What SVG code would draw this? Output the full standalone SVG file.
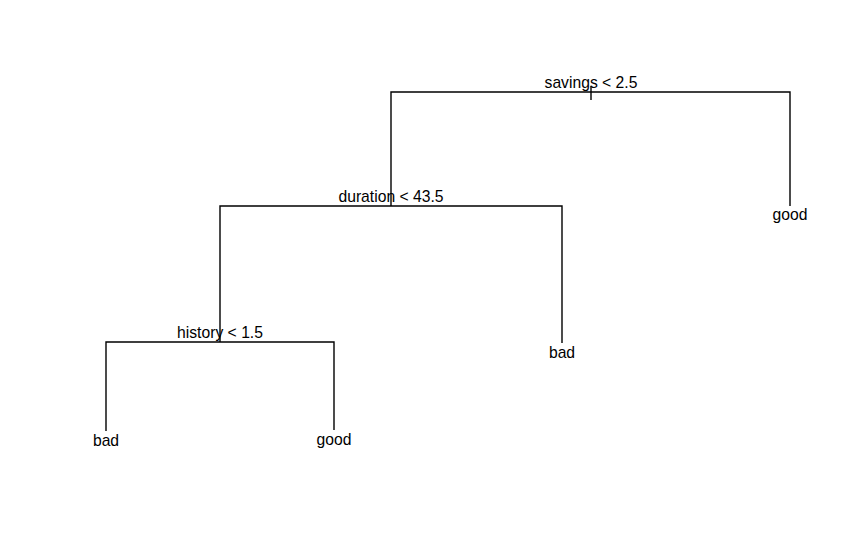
<svg xmlns="http://www.w3.org/2000/svg" width="858" height="543" viewBox="0 0 858 543">
<style>
.e{fill:none;stroke:#000;stroke-width:1.4}
text{font-family:"Liberation Sans",Arial,sans-serif;font-size:15.7px;fill:#000;text-anchor:middle}
</style>
<rect width="858" height="543" fill="#fff"/>
<g id="connectors">
<path class="e" d="M591 86V100"/>
<path class="e" d="M391 206V92H790V206"/>
<path class="e" d="M220 342V206H562V343"/>
<path class="e" d="M106 431V342H334V430"/>
</g>
<g id="n1"><text x="591" y="88">savings &lt; 2.5</text></g>
<g id="n2"><text x="391" y="202">duration &lt; 43.5</text></g>
<g id="n3"><text x="790" y="220">good</text></g>
<g id="n4"><text x="220" y="338">history &lt; 1.5</text></g>
<g id="n5"><text x="562" y="358">bad</text></g>
<g id="n6"><text x="106" y="446">bad</text></g>
<g id="n7"><text x="334" y="445">good</text></g>
</svg>
